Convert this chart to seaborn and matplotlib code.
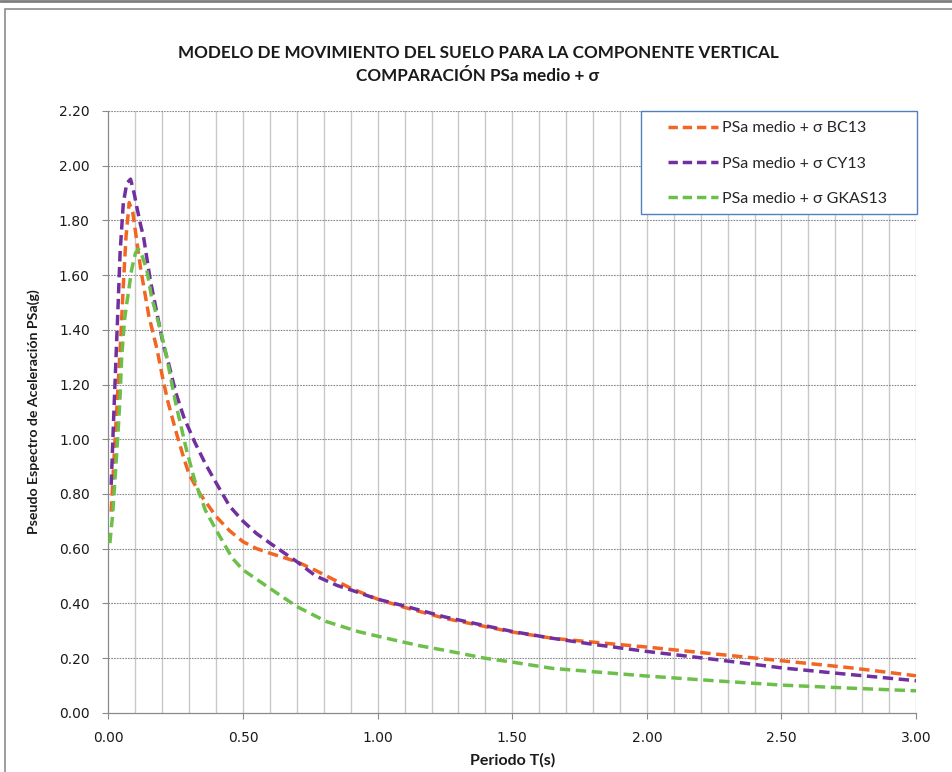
import matplotlib
matplotlib.use("Agg")
import matplotlib.pyplot as plt
from matplotlib import font_manager
from matplotlib.patches import Rectangle
from matplotlib.lines import Line2D
import numpy as np
import pandas as pd
import seaborn as sns

# Periods (s) and spectral accelerations (g) for each model
t_bc13 = [0.01, 0.02, 0.03, 0.045, 0.055, 0.065, 0.077, 0.09, 0.10, 0.12, 0.15, 0.18, 0.20,
          0.22, 0.25, 0.28, 0.30, 0.34, 0.40, 0.45, 0.50, 0.55, 0.60, 0.70, 0.77, 0.85, 0.90,
          1.00, 1.10, 1.25, 1.40, 1.50, 1.65, 1.80, 2.00, 2.25, 2.50, 2.75, 3.00]
psa_bc13 = [0.735, 0.92, 1.10, 1.36, 1.56, 1.74, 1.865, 1.83, 1.76, 1.62, 1.45, 1.33, 1.23,
            1.14, 1.03, 0.93, 0.87, 0.80, 0.717, 0.665, 0.625, 0.60, 0.583, 0.552, 0.52, 0.48,
            0.455, 0.415, 0.385, 0.345, 0.315, 0.295, 0.272, 0.258, 0.24, 0.215, 0.19, 0.165, 0.135]

t_cy13 = [0.01, 0.02, 0.03, 0.036, 0.043, 0.055, 0.068, 0.082, 0.095, 0.105, 0.12, 0.13, 0.155,
          0.185, 0.205, 0.22, 0.25, 0.28, 0.32, 0.36, 0.40, 0.45, 0.50, 0.55, 0.60, 0.70, 0.77,
          0.85, 0.90, 1.00, 1.10, 1.25, 1.40, 1.50, 1.65, 1.80, 2.00, 2.25, 2.50, 2.75, 3.00]
psa_cy13 = [0.833, 1.10, 1.35, 1.50, 1.68, 1.863, 1.936, 1.951, 1.90, 1.85, 1.78, 1.741, 1.583,
            1.436, 1.339, 1.29, 1.17, 1.08, 0.99, 0.91, 0.84, 0.755, 0.70, 0.655, 0.62, 0.552,
            0.50, 0.465, 0.449, 0.415, 0.39, 0.35, 0.318, 0.297, 0.272, 0.25, 0.224, 0.195,
            0.164, 0.14, 0.117]

t_gkas13 = [0.005, 0.015, 0.024, 0.036, 0.043, 0.049, 0.06, 0.068, 0.086, 0.10, 0.111, 0.125,
            0.142, 0.16, 0.19, 0.21, 0.25, 0.29, 0.32, 0.36, 0.40, 0.46, 0.50, 0.59, 0.70, 0.81,
            0.93, 1.06, 1.16, 1.25, 1.40, 1.50, 1.65, 1.80, 2.00, 2.25, 2.50, 2.75, 3.00]
psa_gkas13 = [0.62, 0.72, 0.851, 1.034, 1.156, 1.30, 1.44, 1.497, 1.62, 1.68, 1.695, 1.67,
              1.62, 1.52, 1.41, 1.33, 1.13, 0.96, 0.85, 0.74, 0.668, 0.565, 0.522, 0.461, 0.388,
              0.333, 0.296, 0.266, 0.244, 0.228, 0.199, 0.185, 0.162, 0.15, 0.134, 0.117, 0.101,
              0.09, 0.08]

series_names = ["PSa medio + σ BC13", "PSa medio + σ CY13", "PSa medio + σ GKAS13"]
series_colors = ["#F26522", "#7030A0", "#6CC04A"]

x_ticks = [0.0, 0.5, 1.0, 1.5, 2.0, 2.5, 3.0]
y_ticks = [0.0, 0.2, 0.4, 0.6, 0.8, 1.0, 1.2, 1.4, 1.6, 1.8, 2.0, 2.2]

title_text = "MODELO DE MOVIMIENTO DEL SUELO PARA LA COMPONENTE VERTICAL\nCOMPARACIÓN PSa medio + σ"
x_label = "Periodo T(s)"
y_label = "Pseudo Espectro de Aceleración PSa(g)"


def pick_family(candidates):
    available = {f.name for f in font_manager.fontManager.ttflist}
    for name in candidates:
        if name in available:
            return name
    return "DejaVu Sans"


narrow = pick_family(["Lato", "Open Sans", "Liberation Sans"])

sns.set_theme(style="white")
plt.rcParams["font.family"] = ["DejaVu Sans"]

fig = plt.figure(figsize=(9.53, 7.72), dpi=100)
fig.patch.set_facecolor("white")

# Outer chart frame
fig.add_artist(Line2D([0, 1], [0.9985, 0.9985], transform=fig.transFigure,
                      color="#7F7F7F", lw=2))
fig.add_artist(Rectangle((5.5 / 953, -0.05), 1.2, (772 - 8.5) / 772 + 0.05,
                         transform=fig.transFigure, fill=False, ec="#8C8C8C", lw=1.2))

ax = fig.add_axes([108.5 / 953, 59.3 / 772, 807.5 / 953, 601.7 / 772])
ax.set_facecolor("white")

frames = []
for name, t, v in [(series_names[0], t_bc13, psa_bc13),
                   (series_names[1], t_cy13, psa_cy13),
                   (series_names[2], t_gkas13, psa_gkas13)]:
    frames.append(pd.DataFrame({"T": t, "PSa": v, "Modelo": name}))
data = pd.concat(frames, ignore_index=True)

for name, color in zip(series_names, series_colors):
    sub = data[data["Modelo"] == name]
    sns.lineplot(data=sub, x="T", y="PSa", ax=ax, color=color, lw=2.5,
                 estimator=None, sort=False, label=name, zorder=3)

for line in ax.get_lines():
    line.set_dashes((3.0, 1.6))
    line.set_dash_capstyle("butt")

ax.set_xlim(0, 3.0)
ax.set_ylim(0, 2.2)

# Grid: fine vertical lines every 0.1 s, dotted horizontal lines every 0.2 g
for xv in np.arange(0.1, 3.001, 0.1):
    ax.axvline(xv, color="#C8C8C8", lw=1.0, zorder=1)
for yv in y_ticks[1:]:
    ax.axhline(yv, color="#8A8A8A", lw=0.8, ls=(0, (1.5, 1.0)), zorder=1)

ax.set_xticks(x_ticks)
ax.set_xticklabels([f"{v:.2f}" for v in x_ticks])
ax.set_yticks(y_ticks)
ax.set_yticklabels([f"{v:.2f}" for v in y_ticks])
ax.tick_params(axis="both", which="major", direction="out", length=4.5, width=0.8,
               color="#8A8A8A", labelsize=10, labelcolor="#1A1A1A",
               bottom=True, left=True)
ax.tick_params(axis="x", pad=9)
ax.tick_params(axis="y", pad=9)

for side in ["top", "right"]:
    ax.spines[side].set_visible(False)
for side in ["left", "bottom"]:
    ax.spines[side].set_color("#8A8A8A")
    ax.spines[side].set_linewidth(0.9)

ax.set_xlabel(x_label, fontsize=11.5, fontweight="bold", family=[narrow, "DejaVu Sans"],
              color="#1A1A1A")
ax.xaxis.set_label_coords(0.5, -40.5 / 601.7, transform=ax.transAxes)
ax.set_ylabel(y_label, fontsize=10.2, fontweight="bold", family=[narrow, "DejaVu Sans"],
              color="#1A1A1A")
ax.yaxis.set_label_coords(-68 / 807.5, 0.5, transform=ax.transAxes)

fig.text(478 / 953, 1 - 64.5 / 772, title_text, ha="center", va="center",
         fontsize=12.3, fontweight="bold", family=[narrow, "DejaVu Sans"],
         color="#1A1A1A", linespacing=1.55)

# Legend box drawn as its own patch, entries placed inside it
px_w, px_h = 807.5, 601.7
box_left, box_right, box_top, box_bottom = 641.0, 917.0, 111.0, 214.0
ax.add_patch(Rectangle(((box_left - 108.5) / px_w, (712.7 - box_bottom) / px_h),
                       (box_right - box_left) / px_w, (box_bottom - box_top) / px_h,
                       transform=ax.transAxes, facecolor="white", edgecolor="#4F81BD",
                       lw=1.0, zorder=4, clip_on=False))

leg = ax.legend(loc="upper left", bbox_to_anchor=((668 - 108.5) / px_w, (712.7 - 121.0) / px_h),
                frameon=False, prop={"family": [narrow, "DejaVu Sans"], "size": 11.5},
                handlelength=3.1, handletextpad=0.3, labelspacing=1.33,
                borderpad=0.0, borderaxespad=0.0)
leg.set_zorder(5)
for h in leg.get_lines():
    h.set_dashes((2.7, 1.4))
    h.set_linewidth(2.5)

fig.savefig("out.png", dpi=100, facecolor="white")
